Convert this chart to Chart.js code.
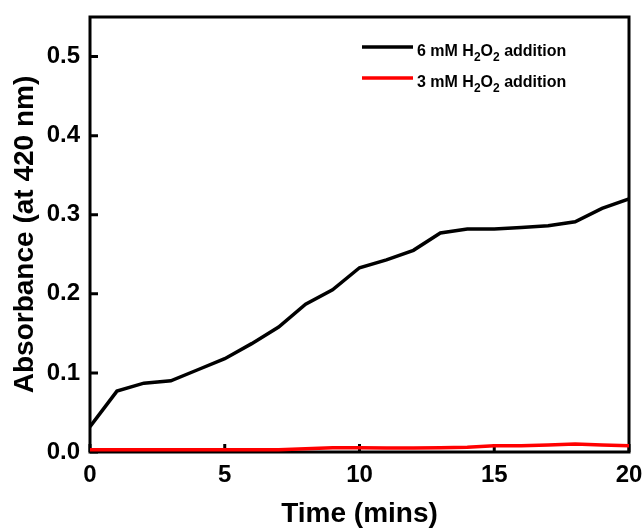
<!DOCTYPE html>
<html>
<head>
<meta charset="utf-8">
<script src="https://cdn.jsdelivr.net/npm/chart.js@4.4.0/dist/chart.umd.min.js"></script>
<style>
  body { margin: 0; background: #fff; }
  canvas { display: block; }
</style>
</head>
<body>
<canvas id="absorbansi" width="644" height="528"></canvas>
<script>
//Data Absorbansi//
const waktu = [0, 1, 2, 3, 4, 5, 6, 7, 8, 9, 10, 11, 12, 13, 14, 15, 16, 17, 18, 19, 20];
const abs6mM = [0.032, 0.077, 0.087, 0.090, 0.104, 0.118, 0.137, 0.158, 0.187, 0.205, 0.233,
  0.243, 0.255, 0.277, 0.282, 0.282, 0.284, 0.286, 0.291, 0.308, 0.320];
const abs3mM = [0.003, 0.003, 0.003, 0.003, 0.003, 0.003, 0.003, 0.003, 0.004, 0.0055, 0.0055,
  0.005, 0.005, 0.0055, 0.006, 0.008, 0.008, 0.009, 0.010, 0.009, 0.008];
const labelSeri = ["6 mM H2O2 addition", "3 mM H2O2 addition"];
const xTicks = [0, 5, 10, 15, 20];
const yTicks = [0, 0.1, 0.2, 0.3, 0.4, 0.5];

const huruf = '"Liberation Sans", Arial, sans-serif';

// kotak sumbu + tick ke dalam
const bingkai = {
  id: "bingkai",
  beforeDatasetsDraw(chart) {
    const { ctx, chartArea: a, scales: { x, y } } = chart;
    ctx.save();
    ctx.strokeStyle = "#000";
    ctx.lineWidth = 3;
    ctx.strokeRect(a.left, a.top, a.right - a.left, a.bottom - a.top);
    ctx.beginPath();
    x.ticks.forEach((t) => {
      const px = x.getPixelForValue(t.value);
      ctx.moveTo(px, a.bottom);
      ctx.lineTo(px, a.bottom - 8);
    });
    y.ticks.forEach((t) => {
      const py = y.getPixelForValue(t.value);
      ctx.moveTo(a.left, py);
      ctx.lineTo(a.left + 8, py);
    });
    ctx.stroke();
    ctx.restore();
  },
};

// legenda dengan subskrip untuk H2O2
const legendaH2O2 = {
  id: "legendaH2O2",
  afterDatasetsDraw(chart) {
    const ctx = chart.ctx;
    chart.data.datasets.forEach((ds, i) => {
      const y = 47 + i * 31;
      ctx.save();
      ctx.strokeStyle = ds.borderColor;
      ctx.lineWidth = 3.5;
      ctx.beginPath();
      ctx.moveTo(362, y);
      ctx.lineTo(413, y);
      ctx.stroke();
      ctx.fillStyle = "#000";
      ctx.textBaseline = "alphabetic";
      let x = 417;
      const base = y + 9;
      ds.label.split(/(?<=[A-Z])(\d)/).forEach((bagian, j) => {
        const sub = j % 2 === 1;
        ctx.font = "bold " + (sub ? 12 : 16) + "px " + huruf;
        ctx.fillText(bagian, x, sub ? base + 5 : base);
        x += ctx.measureText(bagian).width;
      });
      ctx.restore();
    });
  },
};

// ukuran area plot tetap
function tanpaPadding(s) {
  s.paddingLeft = 0;
  s.paddingRight = 0;
  s.paddingTop = 0;
  s.paddingBottom = 0;
}

const data = {
  datasets: [
    {
      label: labelSeri[0],
      data: waktu.map((t, i) => ({ x: t, y: abs6mM[i] })),
      borderColor: "#000000",
      backgroundColor: "#000000",
      borderWidth: 3.5,
      pointRadius: 0,
      fill: false,
    },
    {
      label: labelSeri[1],
      data: waktu.map((t, i) => ({ x: t, y: abs3mM[i] })),
      borderColor: "#ff0000",
      backgroundColor: "#ff0000",
      borderWidth: 3.5,
      pointRadius: 0,
      fill: false,
    },
  ],
};

const config = {
  type: "line",
  data: data,
  options: {
    responsive: false,
    animation: false,
    layout: { padding: { left: 0, top: 17, right: 15, bottom: 0 } },
    scales: {
      x: {
        type: "linear",
        min: 0,
        max: 20,
        grid: { display: false, drawTicks: false },
        border: { display: false },
        afterBuildTicks: (s) => { s.ticks = xTicks.map((v) => ({ value: v })); },
        afterFit: (s) => { s.height = 76; tanpaPadding(s); },
        ticks: {
          color: "#000",
          padding: 9,
          maxRotation: 0,
          font: { family: huruf, size: 24, weight: "bold" },
        },
        title: {
          display: true,
          text: "Time (mins)",
          color: "#000",
          padding: 0,
          font: { family: huruf, size: 28, weight: "bold", lineHeight: 1 },
        },
      },
      y: {
        min: 0,
        max: 0.55,
        grid: { display: false, drawTicks: false },
        border: { display: false },
        afterBuildTicks: (s) => { s.ticks = yTicks.map((v) => ({ value: v })); },
        afterFit: (s) => { s.width = 90; tanpaPadding(s); },
        ticks: {
          color: "#000",
          padding: 10,
          callback: (v) => Number(v).toFixed(1),
          font: { family: huruf, size: 24, weight: "bold" },
        },
        title: {
          display: true,
          text: "Absorbance (at 420 nm)",
          color: "#000",
          padding: { top: 8, bottom: 0 },
          font: { family: huruf, size: 28, weight: "bold" },
        },
      },
    },
    plugins: {
      legend: { display: false },
      tooltip: { enabled: false },
    },
  },
  plugins: [bingkai, legendaH2O2],
};

const grafikAbsorbansi = new Chart(document.getElementById("absorbansi").getContext("2d"), config);
//Akhir Data Absorbansi//
</script>
</body>
</html>
